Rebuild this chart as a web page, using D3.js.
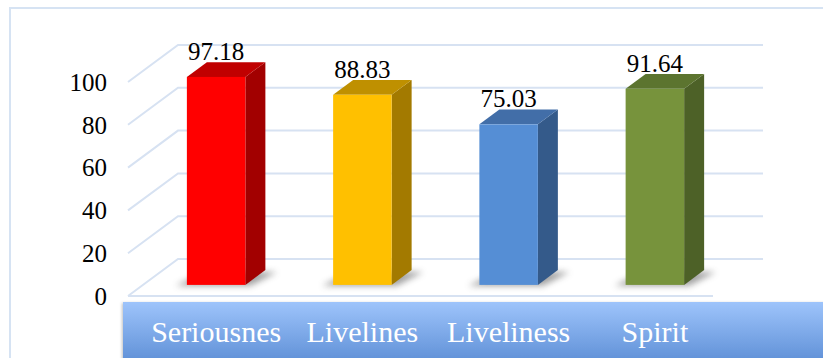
<!DOCTYPE html>
<html>
<head>
<meta charset="utf-8">
<script src="https://cdn.jsdelivr.net/npm/d3@7"></script>
<style>
  html, body { margin: 0; padding: 0; background: #ffffff; }
  svg { display: block; }
</style>
</head>
<body>
<svg id="chart" width="823" height="358"></svg>
<script>
// ---- data ----
const categories = ["Seriousnes", "Livelines", "Liveliness", "Spirit"];
const values = [97.18, 88.83, 75.03, 91.64];
const yTicks = [0, 20, 40, 60, 80, 100];
const frontColors = ["#ff0000", "#ffc000", "#558ed5", "#77933c"];
const topColors = ["#c00000", "#bf9000", "#426ea8", "#5c742f"];
const sideColors = ["#a20000", "#a37a00", "#345a8a", "#4d6127"];

// ---- layout ----
const W = 823, H = 358;
const svg = d3.select("#chart");
const depth = { dx: 50, dy: -37 };   // 3D depth vector of plot box
const barT0 = 0.3, barT1 = 0.7;      // bar position inside depth

const x = d3.scaleBand().domain(categories).range([128, 713])
  .paddingInner(0.6).paddingOuter(0.3);
const y = d3.scaleLinear().domain([0, 100]).range([296, 82]);

const P = (px, v, t) => [px + t * depth.dx, y(v) + t * depth.dy];

const defs = svg.append("defs");
const grad = defs.append("linearGradient").attr("id", "band")
  .attr("x1", 0).attr("y1", 0).attr("x2", 0).attr("y2", 1);
grad.append("stop").attr("offset", "0%").attr("stop-color", "#9ec4fb");
grad.append("stop").attr("offset", "100%").attr("stop-color", "#4a7fcb");
const blur = defs.append("filter").attr("id", "blur")
  .attr("x", "-50%").attr("y", "-50%").attr("width", "200%").attr("height", "200%");
blur.append("feGaussianBlur").attr("stdDeviation", 3);
const bandShadow = defs.append("filter").attr("id", "bshadow")
  .attr("x", "-5%").attr("y", "-20%").attr("width", "110%").attr("height", "140%");
bandShadow.append("feDropShadow").attr("dx", -1).attr("dy", 1)
  .attr("stdDeviation", 1.5).attr("flood-color", "#000").attr("flood-opacity", 0.25);

// outer chart border
svg.append("rect").attr("x", 10).attr("y", 8).attr("width", W).attr("height", H)
  .attr("fill", "none").attr("stroke", "#d6e3f3").attr("stroke-width", 2);

// ---- gridlines ----
const gridColor = "#d7e2f2";
const x0 = x.range()[0], x1 = x.range()[1];
const grid = svg.append("g").attr("stroke", gridColor).attr("stroke-width", 2).attr("fill", "none");
yTicks.forEach(v => {
  const a = P(x0, v, 0), b = P(x0, v, 1), c = P(x1, v, 1);
  grid.append("polyline").attr("points", [a, b, c].map(p => p.join(",")).join(" "));
});
// floor front edge
grid.append("line")
  .attr("x1", P(x0, 0, 0)[0]).attr("y1", P(x0, 0, 0)[1])
  .attr("x2", P(x1, 0, 0)[0]).attr("y2", P(x1, 0, 0)[1]);

// ---- bars ----
const bars = svg.append("g");
categories.forEach((c, i) => {
  const v = values[i];
  const bx0 = x(c), bx1 = x(c) + x.bandwidth();
  // shadow on floor
  const sh = [P(bx0 - 10, 0, barT0 - 0.02), P(bx1 + 6, 0, barT0 - 0.02),
              P(bx1 + 14, 0, barT1 - 0.05), P(bx0, 0, barT1 - 0.05)];
  bars.append("polygon").attr("points", sh.map(p => p.join(",")).join(" "))
    .attr("fill", "#555").attr("opacity", 0.55).attr("filter", "url(#blur)");
  // side face
  const side = [P(bx1, 0, barT0), P(bx1, v, barT0), P(bx1, v, barT1), P(bx1, 0, barT1)];
  bars.append("polygon").attr("points", side.map(p => p.join(",")).join(" "))
    .attr("fill", sideColors[i]);
  // top face
  const top = [P(bx0, v, barT0), P(bx1, v, barT0), P(bx1, v, barT1), P(bx0, v, barT1)];
  bars.append("polygon").attr("points", top.map(p => p.join(",")).join(" "))
    .attr("fill", topColors[i]);
  // front face
  const f0 = P(bx0, v, barT0), f1 = P(bx1, 0, barT0);
  bars.append("rect").attr("x", f0[0]).attr("y", f0[1])
    .attr("width", f1[0] - f0[0]).attr("height", f1[1] - f0[1])
    .attr("fill", frontColors[i]);
  // value label
  bars.append("text")
    .attr("x", (f0[0] + f1[0]) / 2).attr("y", f0[1] - 17)
    .attr("text-anchor", "middle")
    .attr("font-family", "'Liberation Serif', serif").attr("font-size", 25)
    .attr("fill", "#000").text(v.toFixed(2));
});

// ---- y axis labels ----
const yAxis = d3.axisLeft(y).tickValues(yTicks).tickSize(0).tickPadding(21);
const ga = svg.append("g").attr("transform", `translate(${x0},0)`).call(yAxis);
ga.select(".domain").remove();
ga.selectAll("text").attr("font-family", "'Liberation Serif', serif")
  .attr("font-size", 25).attr("fill", "#000").attr("dy", "0.33em");

// ---- category band ----
svg.append("rect").attr("x", 123).attr("y", 302).attr("width", W).attr("height", 80)
  .attr("fill", "url(#band)").attr("filter", "url(#bshadow)");
svg.append("g").selectAll("text").data(categories).join("text")
  .attr("x", d => x(d) + x.bandwidth() / 2 + barT0 * depth.dx)
  .attr("y", 342)
  .attr("text-anchor", "middle")
  .attr("font-family", "'Liberation Serif', serif").attr("font-size", 30)
  .attr("fill", "#ffffff")
  .text(d => d);
</script>
</body>
</html>
